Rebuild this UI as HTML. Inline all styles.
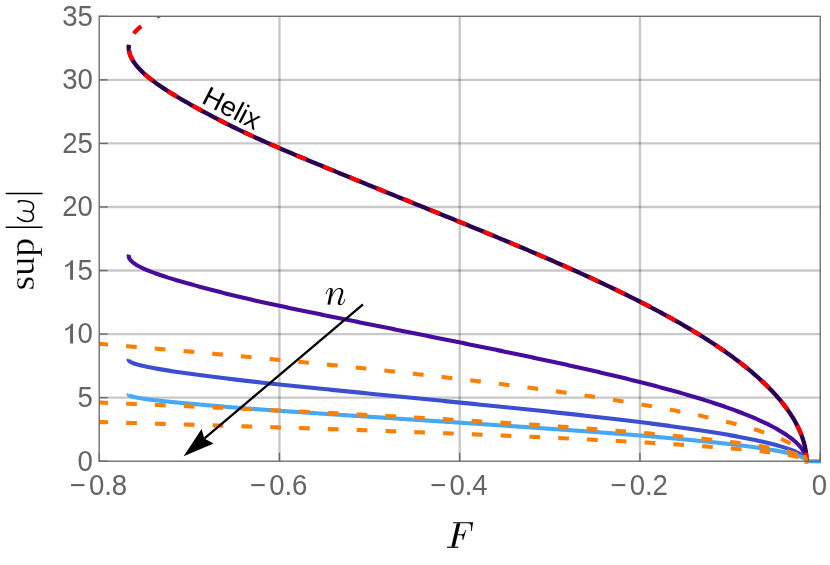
<!DOCTYPE html>
<html><head><meta charset="utf-8"><title>plot</title>
<style>
html,body{margin:0;padding:0;background:#fff;}
body{width:830px;height:565px;overflow:hidden;font-family:"Liberation Sans",sans-serif;}
svg{display:block}
.tk text{font-family:"Liberation Sans",sans-serif;font-size:29.3px;fill:#646464;}
</style></head><body>
<svg width="830" height="565" viewBox="0 0 830 565">
<rect width="830" height="565" fill="#fff"/>
<defs><filter id="gs" x="-20%" y="-20%" width="140%" height="140%" color-interpolation-filters="sRGB"><feColorMatrix type="matrix" values="1 0 0 0 0 0 1 0 0 0 0 0 1 0 0 0 0 0 1 0"/></filter><clipPath id="cp"><rect x="99.2" y="16.3" width="721.8" height="447.4"/></clipPath></defs>
<g stroke="#000" stroke-opacity="0.215" stroke-width="2.4" fill="none"><line x1="279.45" y1="16.30" x2="279.45" y2="461.20"/><line x1="459.70" y1="16.30" x2="459.70" y2="461.20"/><line x1="639.95" y1="16.30" x2="639.95" y2="461.20"/><line x1="99.20" y1="397.64" x2="820.20" y2="397.64"/><line x1="99.20" y1="334.09" x2="820.20" y2="334.09"/><line x1="99.20" y1="270.53" x2="820.20" y2="270.53"/><line x1="99.20" y1="206.97" x2="820.20" y2="206.97"/><line x1="99.20" y1="143.41" x2="820.20" y2="143.41"/><line x1="99.20" y1="79.86" x2="820.20" y2="79.86"/></g>
<g clip-path="url(#cp)" fill="none" stroke-linejoin="round">
<path d="M806.50 461.20 L806.49 460.68 L806.47 460.16 L806.43 459.65 L806.37 459.13 L806.29 458.61 L806.20 458.09 L806.09 457.57 L805.97 457.06 L805.83 456.54 L805.67 456.02 L805.50 455.50 L805.31 454.98 L805.11 454.47 L804.89 453.95 L804.65 453.43 L804.40 452.91 L804.14 452.40 L803.85 451.88 L803.56 451.36 L803.25 450.84 L802.92 450.32 L802.58 449.81 L802.22 449.29 L801.85 448.77 L801.46 448.25 L801.06 447.73 L800.64 447.22 L800.21 446.70 L799.76 446.18 L799.30 445.66 L798.82 445.14 L798.33 444.63 L797.82 444.11 L797.30 443.59 L796.77 443.07 L796.22 442.55 L795.66 442.04 L795.08 441.52 L794.49 441.00 L793.88 440.48 L793.26 439.97 L792.63 439.45 L791.98 438.93 L791.32 438.41 L790.64 437.89 L789.95 437.38 L789.24 436.86 L788.52 436.34 L787.79 435.82 L787.05 435.30 L786.28 434.79 L785.51 434.27 L784.72 433.75 L783.92 433.23 L783.10 432.71 L782.27 432.20 L781.43 431.68 L780.57 431.16 L779.70 430.64 L778.82 430.12 L777.92 429.61 L777.01 429.09 L776.08 428.57 L775.14 428.05 L774.19 427.54 L773.22 427.02 L772.24 426.50 L771.25 425.98 L770.24 425.46 L769.22 424.95 L768.19 424.43 L767.14 423.91 L766.08 423.39 L765.01 422.87 L763.92 422.36 L762.82 421.84 L761.70 421.32 L760.58 420.80 L759.44 420.28 L758.28 419.77 L757.11 419.25 L755.93 418.73 L754.74 418.21 L753.53 417.69 L752.31 417.18 L751.08 416.66 L749.83 416.14 L748.57 415.62 L747.29 415.11 L746.01 414.59 L744.71 414.07 L743.39 413.55 L742.07 413.03 L740.73 412.52 L739.38 412.00 L738.01 411.48 L736.63 410.96 L735.24 410.44 L733.84 409.93 L732.42 409.41 L730.99 408.89 L729.54 408.37 L728.09 407.85 L726.62 407.34 L725.14 406.82 L723.64 406.30 L722.13 405.78 L720.61 405.26 L719.08 404.75 L717.54 404.23 L715.98 403.71 L714.41 403.19 L712.82 402.68 L711.23 402.16 L709.62 401.64 L708.00 401.12 L706.36 400.60 L704.71 400.09 L703.06 399.57 L701.39 399.05 L699.70 398.53 L698.01 398.01 L696.30 397.50 L694.58 396.98 L692.85 396.46 L691.10 395.94 L689.35 395.42 L687.58 394.91 L685.80 394.39 L684.00 393.87 L682.20 393.35 L680.39 392.83 L678.56 392.32 L676.72 391.80 L674.87 391.28 L673.01 390.76 L671.13 390.24 L669.25 389.73 L667.35 389.21 L665.44 388.69 L663.52 388.17 L661.59 387.66 L659.65 387.14 L657.70 386.62 L655.74 386.10 L653.77 385.58 L651.78 385.07 L649.79 384.55 L647.78 384.03 L645.77 383.51 L643.74 382.99 L641.70 382.48 L639.66 381.96 L637.60 381.44 L635.53 380.92 L633.45 380.40 L631.37 379.89 L629.27 379.37 L627.16 378.85 L625.04 378.33 L622.92 377.81 L620.78 377.30 L618.63 376.78 L616.48 376.26 L614.31 375.74 L612.14 375.23 L609.96 374.71 L607.76 374.19 L605.56 373.67 L603.35 373.15 L601.13 372.64 L598.90 372.12 L596.66 371.60 L594.42 371.08 L592.16 370.56 L589.90 370.05 L587.63 369.53 L585.35 369.01 L583.06 368.49 L580.76 367.97 L578.46 367.46 L576.15 366.94 L573.83 366.42 L571.50 365.90 L569.16 365.38 L566.82 364.87 L564.47 364.35 L562.11 363.83 L559.74 363.31 L557.37 362.80 L554.99 362.28 L552.60 361.76 L550.21 361.24 L547.81 360.72 L545.40 360.21 L542.99 359.69 L540.57 359.17 L538.14 358.65 L535.71 358.13 L533.27 357.62 L530.82 357.10 L528.37 356.58 L525.92 356.06 L523.46 355.54 L520.99 355.03 L518.51 354.51 L516.04 353.99 L513.55 353.47 L511.06 352.95 L508.57 352.44 L506.07 351.92 L503.57 351.40 L501.06 350.88 L498.55 350.37 L496.04 349.85 L493.52 349.33 L490.99 348.81 L488.46 348.29 L485.93 347.78 L483.40 347.26 L480.86 346.74 L478.32 346.22 L475.77 345.70 L473.22 345.19 L470.67 344.67 L468.12 344.15 L465.56 343.63 L463.00 343.11 L460.44 342.60 L457.88 342.08 L455.31 341.56 L452.75 341.04 L450.18 340.52 L447.61 340.01 L445.04 339.49 L442.47 338.97 L439.89 338.45 L437.32 337.94 L434.74 337.42 L432.17 336.90 L429.59 336.38 L427.01 335.86 L424.43 335.35 L421.85 334.83 L419.27 334.31 L416.69 333.79 L414.11 333.27 L411.53 332.76 L408.95 332.24 L406.37 331.72 L403.79 331.20 L401.21 330.68 L398.63 330.17 L396.05 329.65 L393.47 329.13 L390.90 328.61 L388.32 328.09 L385.74 327.58 L383.16 327.06 L380.58 326.54 L378.01 326.02 L375.43 325.50 L372.86 324.99 L370.29 324.47 L367.71 323.95 L365.14 323.43 L362.57 322.92 L360.00 322.40 L357.43 321.88 L354.87 321.36 L352.30 320.84 L349.74 320.33 L347.17 319.81 L344.61 319.29 L342.05 318.77 L339.49 318.25 L336.93 317.74 L334.38 317.22 L331.83 316.70 L329.28 316.18 L326.73 315.66 L324.19 315.15 L321.65 314.63 L319.12 314.11 L316.59 313.59 L314.06 313.07 L311.54 312.56 L309.03 312.04 L306.52 311.52 L304.01 311.00 L301.52 310.49 L299.03 309.97 L296.54 309.45 L294.07 308.93 L291.60 308.41 L289.14 307.90 L286.69 307.38 L284.25 306.86 L281.82 306.34 L279.39 305.82 L276.98 305.31 L274.58 304.79 L272.19 304.27 L269.81 303.75 L267.45 303.23 L265.09 302.72 L262.75 302.20 L260.42 301.68 L258.11 301.16 L255.81 300.64 L253.53 300.13 L251.26 299.61 L249.00 299.09 L246.77 298.57 L244.55 298.06 L242.34 297.54 L240.16 297.02 L237.99 296.50 L235.84 295.98 L233.70 295.47 L231.58 294.95 L229.48 294.43 L227.39 293.91 L225.32 293.39 L223.26 292.88 L221.21 292.36 L219.18 291.84 L217.16 291.32 L215.16 290.80 L213.17 290.29 L211.19 289.77 L209.22 289.25 L207.26 288.73 L205.31 288.21 L203.38 287.70 L201.45 287.18 L199.53 286.66 L197.62 286.14 L195.72 285.63 L193.83 285.11 L191.96 284.59 L190.09 284.07 L188.24 283.55 L186.40 283.04 L184.57 282.52 L182.76 282.00 L180.97 281.48 L179.19 280.96 L177.43 280.45 L175.69 279.93 L173.96 279.41 L172.25 278.89 L170.57 278.37 L168.90 277.86 L167.26 277.34 L165.64 276.82 L164.04 276.30 L162.47 275.78 L160.92 275.27 L159.40 274.75 L157.90 274.23 L156.43 273.71 L154.99 273.19 L153.58 272.68 L152.21 272.16 L150.86 271.64 L149.54 271.12 L148.26 270.61 L147.01 270.09 L145.80 269.57 L144.62 269.05 L143.48 268.53 L142.37 268.02 L141.30 267.50 L140.27 266.98 L139.28 266.46 L138.33 265.94 L137.41 265.43 L136.54 264.91 L135.71 264.39 L134.92 263.87 L134.18 263.35 L133.48 262.84 L132.82 262.32 L132.21 261.80 L131.64 261.28 L131.12 260.76 L130.65 260.25 L130.23 259.73 L129.85 259.21 L129.52 258.69 L129.25 258.18 L129.02 257.66 L128.85 257.14 L128.73 256.62 L128.67 256.10 L128.65 255.59 L128.70 255.07 L128.80 254.55" stroke="#470c9c" stroke-width="4.1"/>
<path d="M806.50 461.20 L806.49 460.94 L806.47 460.69 L806.43 460.43 L806.37 460.18 L806.29 459.92 L806.20 459.67 L806.09 459.41 L805.97 459.15 L805.83 458.90 L805.67 458.64 L805.50 458.39 L805.31 458.13 L805.11 457.87 L804.89 457.62 L804.65 457.36 L804.40 457.11 L804.14 456.85 L803.85 456.60 L803.56 456.34 L803.25 456.08 L802.92 455.83 L802.58 455.57 L802.22 455.32 L801.85 455.06 L801.46 454.81 L801.06 454.55 L800.64 454.29 L800.21 454.04 L799.76 453.78 L799.30 453.53 L798.82 453.27 L798.33 453.01 L797.82 452.76 L797.30 452.50 L796.77 452.25 L796.22 451.99 L795.66 451.74 L795.08 451.48 L794.49 451.22 L793.88 450.97 L793.26 450.71 L792.63 450.46 L791.98 450.20 L791.32 449.95 L790.64 449.69 L789.95 449.43 L789.24 449.18 L788.52 448.92 L787.79 448.67 L787.05 448.41 L786.28 448.15 L785.51 447.90 L784.72 447.64 L783.92 447.39 L783.10 447.13 L782.27 446.88 L781.43 446.62 L780.57 446.36 L779.70 446.11 L778.82 445.85 L777.92 445.60 L777.01 445.34 L776.08 445.09 L775.14 444.83 L774.19 444.57 L773.22 444.32 L772.24 444.06 L771.25 443.81 L770.24 443.55 L769.22 443.29 L768.19 443.04 L767.14 442.78 L766.08 442.53 L765.01 442.27 L763.92 442.02 L762.82 441.76 L761.70 441.50 L760.58 441.25 L759.44 440.99 L758.28 440.74 L757.11 440.48 L755.93 440.23 L754.74 439.97 L753.53 439.71 L752.31 439.46 L751.08 439.20 L749.83 438.95 L748.57 438.69 L747.29 438.43 L746.01 438.18 L744.71 437.92 L743.39 437.67 L742.07 437.41 L740.73 437.16 L739.38 436.90 L738.01 436.64 L736.63 436.39 L735.24 436.13 L733.84 435.88 L732.42 435.62 L730.99 435.37 L729.54 435.11 L728.09 434.85 L726.62 434.60 L725.14 434.34 L723.64 434.09 L722.13 433.83 L720.61 433.58 L719.08 433.32 L717.54 433.06 L715.98 432.81 L714.41 432.55 L712.82 432.30 L711.23 432.04 L709.62 431.78 L708.00 431.53 L706.36 431.27 L704.71 431.02 L703.06 430.76 L701.39 430.51 L699.70 430.25 L698.01 429.99 L696.30 429.74 L694.58 429.48 L692.85 429.23 L691.10 428.97 L689.35 428.72 L687.58 428.46 L685.80 428.20 L684.00 427.95 L682.20 427.69 L680.39 427.44 L678.56 427.18 L676.72 426.92 L674.87 426.67 L673.01 426.41 L671.13 426.16 L669.25 425.90 L667.35 425.65 L665.44 425.39 L663.52 425.13 L661.59 424.88 L659.65 424.62 L657.70 424.37 L655.74 424.11 L653.77 423.86 L651.78 423.60 L649.79 423.34 L647.78 423.09 L645.77 422.83 L643.74 422.58 L641.70 422.32 L639.66 422.06 L637.60 421.81 L635.53 421.55 L633.45 421.30 L631.37 421.04 L629.27 420.79 L627.16 420.53 L625.04 420.27 L622.92 420.02 L620.78 419.76 L618.63 419.51 L616.48 419.25 L614.31 419.00 L612.14 418.74 L609.96 418.48 L607.76 418.23 L605.56 417.97 L603.35 417.72 L601.13 417.46 L598.90 417.20 L596.66 416.95 L594.42 416.69 L592.16 416.44 L589.90 416.18 L587.63 415.93 L585.35 415.67 L583.06 415.41 L580.76 415.16 L578.46 414.90 L576.15 414.65 L573.83 414.39 L571.50 414.14 L569.16 413.88 L566.82 413.62 L564.47 413.37 L562.11 413.11 L559.74 412.86 L557.37 412.60 L554.99 412.34 L552.60 412.09 L550.21 411.83 L547.81 411.58 L545.40 411.32 L542.99 411.07 L540.57 410.81 L538.14 410.55 L535.71 410.30 L533.27 410.04 L530.82 409.79 L528.37 409.53 L525.92 409.28 L523.46 409.02 L520.99 408.76 L518.51 408.51 L516.04 408.25 L513.55 408.00 L511.06 407.74 L508.57 407.48 L506.07 407.23 L503.57 406.97 L501.06 406.72 L498.55 406.46 L496.04 406.21 L493.52 405.95 L490.99 405.69 L488.46 405.44 L485.93 405.18 L483.40 404.93 L480.86 404.67 L478.32 404.42 L475.77 404.16 L473.22 403.90 L470.67 403.65 L468.12 403.39 L465.56 403.14 L463.00 402.88 L460.44 402.62 L457.88 402.37 L455.31 402.11 L452.75 401.86 L450.18 401.60 L447.61 401.35 L445.04 401.09 L442.47 400.83 L439.89 400.58 L437.32 400.32 L434.74 400.07 L432.17 399.81 L429.59 399.56 L427.01 399.30 L424.43 399.04 L421.85 398.79 L419.27 398.53 L416.69 398.28 L414.11 398.02 L411.53 397.76 L408.95 397.51 L406.37 397.25 L403.79 397.00 L401.21 396.74 L398.63 396.49 L396.05 396.23 L393.47 395.97 L390.90 395.72 L388.32 395.46 L385.74 395.21 L383.16 394.95 L380.58 394.70 L378.01 394.44 L375.43 394.18 L372.86 393.93 L370.29 393.67 L367.71 393.42 L365.14 393.16 L362.57 392.90 L360.00 392.65 L357.43 392.39 L354.87 392.14 L352.30 391.88 L349.74 391.63 L347.17 391.37 L344.61 391.11 L342.05 390.86 L339.49 390.60 L336.93 390.35 L334.38 390.09 L331.83 389.84 L329.28 389.58 L326.73 389.32 L324.19 389.07 L321.65 388.81 L319.12 388.56 L316.59 388.30 L314.06 388.05 L311.54 387.79 L309.03 387.53 L306.52 387.28 L304.01 387.02 L301.52 386.77 L299.03 386.51 L296.54 386.25 L294.07 386.00 L291.60 385.74 L289.14 385.49 L286.69 385.23 L284.25 384.98 L281.82 384.72 L279.39 384.46 L276.98 384.21 L274.58 383.95 L272.19 383.70 L269.81 383.44 L267.45 383.19 L265.09 382.93 L262.75 382.67 L260.42 382.42 L258.11 382.16 L255.81 381.91 L253.53 381.65 L251.26 381.39 L249.00 381.14 L246.77 380.88 L244.55 380.63 L242.34 380.37 L240.16 380.12 L237.99 379.86 L235.84 379.60 L233.70 379.35 L231.58 379.09 L229.48 378.84 L227.39 378.58 L225.32 378.33 L223.26 378.07 L221.21 377.81 L219.18 377.56 L217.16 377.30 L215.16 377.05 L213.17 376.79 L211.19 376.53 L209.22 376.28 L207.26 376.02 L205.31 375.77 L203.38 375.51 L201.45 375.26 L199.53 375.00 L197.62 374.74 L195.72 374.49 L193.83 374.23 L191.96 373.98 L190.09 373.72 L188.24 373.47 L186.40 373.21 L184.57 372.95 L182.76 372.70 L180.97 372.44 L179.19 372.19 L177.43 371.93 L175.69 371.67 L173.96 371.42 L172.25 371.16 L170.57 370.91 L168.90 370.65 L167.26 370.40 L165.64 370.14 L164.04 369.88 L162.47 369.63 L160.92 369.37 L159.40 369.12 L157.90 368.86 L156.43 368.61 L154.99 368.35 L153.58 368.09 L152.21 367.84 L150.86 367.58 L149.54 367.33 L148.26 367.07 L147.01 366.81 L145.80 366.56 L144.62 366.30 L143.48 366.05 L142.37 365.79 L141.30 365.54 L140.27 365.28 L139.28 365.02 L138.33 364.77 L137.41 364.51 L136.54 364.26 L135.71 364.00 L134.92 363.75 L134.18 363.49 L133.48 363.23 L132.82 362.98 L132.21 362.72 L131.64 362.47 L131.12 362.21 L130.65 361.95 L130.23 361.70 L129.85 361.44 L129.52 361.19 L129.25 360.93 L129.02 360.68 L128.85 360.42 L128.73 360.16 L128.67 359.91 L128.65 359.65 L128.70 359.40 L128.80 359.14" stroke="#3c4fd0" stroke-width="4.1"/>
<path d="M822.20 461.40 L806.50 461.20 L806.49 461.03 L806.47 460.86 L806.43 460.70 L806.37 460.53 L806.29 460.36 L806.20 460.19 L806.09 460.02 L805.97 459.86 L805.83 459.69 L805.67 459.52 L805.50 459.35 L805.31 459.18 L805.11 459.02 L804.89 458.85 L804.65 458.68 L804.40 458.51 L804.14 458.34 L803.85 458.18 L803.56 458.01 L803.25 457.84 L802.92 457.67 L802.58 457.50 L802.22 457.33 L801.85 457.17 L801.46 457.00 L801.06 456.83 L800.64 456.66 L800.21 456.49 L799.76 456.33 L799.30 456.16 L798.82 455.99 L798.33 455.82 L797.82 455.65 L797.30 455.49 L796.77 455.32 L796.22 455.15 L795.66 454.98 L795.08 454.81 L794.49 454.65 L793.88 454.48 L793.26 454.31 L792.63 454.14 L791.98 453.97 L791.32 453.81 L790.64 453.64 L789.95 453.47 L789.24 453.30 L788.52 453.13 L787.79 452.97 L787.05 452.80 L786.28 452.63 L785.51 452.46 L784.72 452.29 L783.92 452.13 L783.10 451.96 L782.27 451.79 L781.43 451.62 L780.57 451.45 L779.70 451.28 L778.82 451.12 L777.92 450.95 L777.01 450.78 L776.08 450.61 L775.14 450.44 L774.19 450.28 L773.22 450.11 L772.24 449.94 L771.25 449.77 L770.24 449.60 L769.22 449.44 L768.19 449.27 L767.14 449.10 L766.08 448.93 L765.01 448.76 L763.92 448.60 L762.82 448.43 L761.70 448.26 L760.58 448.09 L759.44 447.92 L758.28 447.76 L757.11 447.59 L755.93 447.42 L754.74 447.25 L753.53 447.08 L752.31 446.92 L751.08 446.75 L749.83 446.58 L748.57 446.41 L747.29 446.24 L746.01 446.08 L744.71 445.91 L743.39 445.74 L742.07 445.57 L740.73 445.40 L739.38 445.23 L738.01 445.07 L736.63 444.90 L735.24 444.73 L733.84 444.56 L732.42 444.39 L730.99 444.23 L729.54 444.06 L728.09 443.89 L726.62 443.72 L725.14 443.55 L723.64 443.39 L722.13 443.22 L720.61 443.05 L719.08 442.88 L717.54 442.71 L715.98 442.55 L714.41 442.38 L712.82 442.21 L711.23 442.04 L709.62 441.87 L708.00 441.71 L706.36 441.54 L704.71 441.37 L703.06 441.20 L701.39 441.03 L699.70 440.87 L698.01 440.70 L696.30 440.53 L694.58 440.36 L692.85 440.19 L691.10 440.03 L689.35 439.86 L687.58 439.69 L685.80 439.52 L684.00 439.35 L682.20 439.19 L680.39 439.02 L678.56 438.85 L676.72 438.68 L674.87 438.51 L673.01 438.34 L671.13 438.18 L669.25 438.01 L667.35 437.84 L665.44 437.67 L663.52 437.50 L661.59 437.34 L659.65 437.17 L657.70 437.00 L655.74 436.83 L653.77 436.66 L651.78 436.50 L649.79 436.33 L647.78 436.16 L645.77 435.99 L643.74 435.82 L641.70 435.66 L639.66 435.49 L637.60 435.32 L635.53 435.15 L633.45 434.98 L631.37 434.82 L629.27 434.65 L627.16 434.48 L625.04 434.31 L622.92 434.14 L620.78 433.98 L618.63 433.81 L616.48 433.64 L614.31 433.47 L612.14 433.30 L609.96 433.14 L607.76 432.97 L605.56 432.80 L603.35 432.63 L601.13 432.46 L598.90 432.29 L596.66 432.13 L594.42 431.96 L592.16 431.79 L589.90 431.62 L587.63 431.45 L585.35 431.29 L583.06 431.12 L580.76 430.95 L578.46 430.78 L576.15 430.61 L573.83 430.45 L571.50 430.28 L569.16 430.11 L566.82 429.94 L564.47 429.77 L562.11 429.61 L559.74 429.44 L557.37 429.27 L554.99 429.10 L552.60 428.93 L550.21 428.77 L547.81 428.60 L545.40 428.43 L542.99 428.26 L540.57 428.09 L538.14 427.93 L535.71 427.76 L533.27 427.59 L530.82 427.42 L528.37 427.25 L525.92 427.09 L523.46 426.92 L520.99 426.75 L518.51 426.58 L516.04 426.41 L513.55 426.24 L511.06 426.08 L508.57 425.91 L506.07 425.74 L503.57 425.57 L501.06 425.40 L498.55 425.24 L496.04 425.07 L493.52 424.90 L490.99 424.73 L488.46 424.56 L485.93 424.40 L483.40 424.23 L480.86 424.06 L478.32 423.89 L475.77 423.72 L473.22 423.56 L470.67 423.39 L468.12 423.22 L465.56 423.05 L463.00 422.88 L460.44 422.72 L457.88 422.55 L455.31 422.38 L452.75 422.21 L450.18 422.04 L447.61 421.88 L445.04 421.71 L442.47 421.54 L439.89 421.37 L437.32 421.20 L434.74 421.04 L432.17 420.87 L429.59 420.70 L427.01 420.53 L424.43 420.36 L421.85 420.20 L419.27 420.03 L416.69 419.86 L414.11 419.69 L411.53 419.52 L408.95 419.35 L406.37 419.19 L403.79 419.02 L401.21 418.85 L398.63 418.68 L396.05 418.51 L393.47 418.35 L390.90 418.18 L388.32 418.01 L385.74 417.84 L383.16 417.67 L380.58 417.51 L378.01 417.34 L375.43 417.17 L372.86 417.00 L370.29 416.83 L367.71 416.67 L365.14 416.50 L362.57 416.33 L360.00 416.16 L357.43 415.99 L354.87 415.83 L352.30 415.66 L349.74 415.49 L347.17 415.32 L344.61 415.15 L342.05 414.99 L339.49 414.82 L336.93 414.65 L334.38 414.48 L331.83 414.31 L329.28 414.15 L326.73 413.98 L324.19 413.81 L321.65 413.64 L319.12 413.47 L316.59 413.30 L314.06 413.14 L311.54 412.97 L309.03 412.80 L306.52 412.63 L304.01 412.46 L301.52 412.30 L299.03 412.13 L296.54 411.96 L294.07 411.79 L291.60 411.62 L289.14 411.46 L286.69 411.29 L284.25 411.12 L281.82 410.95 L279.39 410.78 L276.98 410.62 L274.58 410.45 L272.19 410.28 L269.81 410.11 L267.45 409.94 L265.09 409.78 L262.75 409.61 L260.42 409.44 L258.11 409.27 L255.81 409.10 L253.53 408.94 L251.26 408.77 L249.00 408.60 L246.77 408.43 L244.55 408.26 L242.34 408.10 L240.16 407.93 L237.99 407.76 L235.84 407.59 L233.70 407.42 L231.58 407.25 L229.48 407.09 L227.39 406.92 L225.32 406.75 L223.26 406.58 L221.21 406.41 L219.18 406.25 L217.16 406.08 L215.16 405.91 L213.17 405.74 L211.19 405.57 L209.22 405.41 L207.26 405.24 L205.31 405.07 L203.38 404.90 L201.45 404.73 L199.53 404.57 L197.62 404.40 L195.72 404.23 L193.83 404.06 L191.96 403.89 L190.09 403.73 L188.24 403.56 L186.40 403.39 L184.57 403.22 L182.76 403.05 L180.97 402.89 L179.19 402.72 L177.43 402.55 L175.69 402.38 L173.96 402.21 L172.25 402.05 L170.57 401.88 L168.90 401.71 L167.26 401.54 L165.64 401.37 L164.04 401.21 L162.47 401.04 L160.92 400.87 L159.40 400.70 L157.90 400.53 L156.43 400.36 L154.99 400.20 L153.58 400.03 L152.21 399.86 L150.86 399.69 L149.54 399.52 L148.26 399.36 L147.01 399.19 L145.80 399.02 L144.62 398.85 L143.48 398.68 L142.37 398.52 L141.30 398.35 L140.27 398.18 L139.28 398.01 L138.33 397.84 L137.41 397.68 L136.54 397.51 L135.71 397.34 L134.92 397.17 L134.18 397.00 L133.48 396.84 L132.82 396.67 L132.21 396.50 L131.64 396.33 L131.12 396.16 L130.65 396.00 L130.23 395.83 L129.85 395.66 L129.52 395.49 L129.25 395.32 L129.02 395.16 L128.85 394.99 L128.73 394.82 L128.67 394.65 L128.65 394.48 L128.70 394.31 L128.80 394.15" stroke="#45a9f8" stroke-width="4.1"/>
<path d="M806.50 461.20 L806.49 460.16 L806.47 459.11 L806.43 458.07 L806.37 457.03 L806.29 455.98 L806.20 454.94 L806.09 453.89 L805.97 452.85 L805.83 451.81 L805.67 450.76 L805.50 449.72 L805.31 448.68 L805.11 447.63 L804.89 446.59 L804.65 445.55 L804.40 444.50 L804.14 443.46 L803.85 442.42 L803.56 441.37 L803.25 440.33 L802.92 439.28 L802.58 438.24 L802.22 437.20 L801.85 436.15 L801.46 435.11 L801.06 434.07 L800.64 433.02 L800.21 431.98 L799.76 430.94 L799.30 429.89 L798.82 428.85 L798.33 427.80 L797.82 426.76 L797.30 425.72 L796.77 424.67 L796.22 423.63 L795.66 422.59 L795.08 421.54 L794.49 420.50 L793.88 419.46 L793.26 418.41 L792.63 417.37 L791.98 416.32 L791.32 415.28 L790.64 414.24 L789.95 413.19 L789.24 412.15 L788.52 411.11 L787.79 410.06 L787.05 409.02 L786.28 407.98 L785.51 406.93 L784.72 405.89 L783.92 404.85 L783.10 403.80 L782.27 402.76 L781.43 401.71 L780.57 400.67 L779.70 399.63 L778.82 398.58 L777.92 397.54 L777.01 396.50 L776.08 395.45 L775.14 394.41 L774.19 393.37 L773.22 392.32 L772.24 391.28 L771.25 390.23 L770.24 389.19 L769.22 388.15 L768.19 387.10 L767.14 386.06 L766.08 385.02 L765.01 383.97 L763.92 382.93 L762.82 381.89 L761.70 380.84 L760.58 379.80 L759.44 378.75 L758.28 377.71 L757.11 376.67 L755.93 375.62 L754.74 374.58 L753.53 373.54 L752.31 372.49 L751.08 371.45 L749.83 370.41 L748.57 369.36 L747.29 368.32 L746.01 367.28 L744.71 366.23 L743.39 365.19 L742.07 364.14 L740.73 363.10 L739.38 362.06 L738.01 361.01 L736.63 359.97 L735.24 358.93 L733.84 357.88 L732.42 356.84 L730.99 355.80 L729.54 354.75 L728.09 353.71 L726.62 352.66 L725.14 351.62 L723.64 350.58 L722.13 349.53 L720.61 348.49 L719.08 347.45 L717.54 346.40 L715.98 345.36 L714.41 344.32 L712.82 343.27 L711.23 342.23 L709.62 341.18 L708.00 340.14 L706.36 339.10 L704.71 338.05 L703.06 337.01 L701.39 335.97 L699.70 334.92 L698.01 333.88 L696.30 332.84 L694.58 331.79 L692.85 330.75 L691.10 329.71 L689.35 328.66 L687.58 327.62 L685.80 326.57 L684.00 325.53 L682.20 324.49 L680.39 323.44 L678.56 322.40 L676.72 321.36 L674.87 320.31 L673.01 319.27 L671.13 318.23 L669.25 317.18 L667.35 316.14 L665.44 315.09 L663.52 314.05 L661.59 313.01 L659.65 311.96 L657.70 310.92 L655.74 309.88 L653.77 308.83 L651.78 307.79 L649.79 306.75 L647.78 305.70 L645.77 304.66 L643.74 303.62 L641.70 302.57 L639.66 301.53 L637.60 300.48 L635.53 299.44 L633.45 298.40 L631.37 297.35 L629.27 296.31 L627.16 295.27 L625.04 294.22 L622.92 293.18 L620.78 292.14 L618.63 291.09 L616.48 290.05 L614.31 289.00 L612.14 287.96 L609.96 286.92 L607.76 285.87 L605.56 284.83 L603.35 283.79 L601.13 282.74 L598.90 281.70 L596.66 280.66 L594.42 279.61 L592.16 278.57 L589.90 277.52 L587.63 276.48 L585.35 275.44 L583.06 274.39 L580.76 273.35 L578.46 272.31 L576.15 271.26 L573.83 270.22 L571.50 269.18 L569.16 268.13 L566.82 267.09 L564.47 266.05 L562.11 265.00 L559.74 263.96 L557.37 262.91 L554.99 261.87 L552.60 260.83 L550.21 259.78 L547.81 258.74 L545.40 257.70 L542.99 256.65 L540.57 255.61 L538.14 254.57 L535.71 253.52 L533.27 252.48 L530.82 251.43 L528.37 250.39 L525.92 249.35 L523.46 248.30 L520.99 247.26 L518.51 246.22 L516.04 245.17 L513.55 244.13 L511.06 243.09 L508.57 242.04 L506.07 241.00 L503.57 239.95 L501.06 238.91 L498.55 237.87 L496.04 236.82 L493.52 235.78 L490.99 234.74 L488.46 233.69 L485.93 232.65 L483.40 231.61 L480.86 230.56 L478.32 229.52 L475.77 228.48 L473.22 227.43 L470.67 226.39 L468.12 225.34 L465.56 224.30 L463.00 223.26 L460.44 222.21 L457.88 221.17 L455.31 220.13 L452.75 219.08 L450.18 218.04 L447.61 217.00 L445.04 215.95 L442.47 214.91 L439.89 213.86 L437.32 212.82 L434.74 211.78 L432.17 210.73 L429.59 209.69 L427.01 208.65 L424.43 207.60 L421.85 206.56 L419.27 205.52 L416.69 204.47 L414.11 203.43 L411.53 202.38 L408.95 201.34 L406.37 200.30 L403.79 199.25 L401.21 198.21 L398.63 197.17 L396.05 196.12 L393.47 195.08 L390.90 194.04 L388.32 192.99 L385.74 191.95 L383.16 190.91 L380.58 189.86 L378.01 188.82 L375.43 187.77 L372.86 186.73 L370.29 185.69 L367.71 184.64 L365.14 183.60 L362.57 182.56 L360.00 181.51 L357.43 180.47 L354.87 179.43 L352.30 178.38 L349.74 177.34 L347.17 176.29 L344.61 175.25 L342.05 174.21 L339.49 173.16 L336.93 172.12 L334.38 171.08 L331.83 170.03 L329.28 168.99 L326.73 167.95 L324.19 166.90 L321.65 165.86 L319.12 164.82 L316.59 163.77 L314.06 162.73 L311.54 161.68 L309.03 160.64 L306.52 159.60 L304.01 158.55 L301.52 157.51 L299.03 156.47 L296.54 155.42 L294.07 154.38 L291.60 153.34 L289.14 152.29 L286.69 151.25 L284.25 150.20 L281.82 149.16 L279.39 148.12 L276.98 147.07 L274.58 146.03 L272.19 144.99 L269.81 143.94 L267.45 142.90 L265.09 141.86 L262.75 140.81 L260.42 139.77 L258.11 138.72 L255.81 137.68 L253.53 136.64 L251.26 135.59 L249.00 134.55 L246.77 133.51 L244.55 132.46 L242.34 131.42 L240.16 130.38 L237.99 129.33 L235.84 128.29 L233.70 127.25 L231.58 126.20 L229.48 125.16 L227.39 124.11 L225.32 123.07 L223.26 122.03 L221.21 120.98 L219.18 119.94 L217.16 118.90 L215.16 117.85 L213.17 116.81 L211.19 115.77 L209.22 114.72 L207.26 113.68 L205.31 112.63 L203.38 111.59 L201.45 110.55 L199.53 109.50 L197.62 108.46 L195.72 107.42 L193.83 106.37 L191.96 105.33 L190.09 104.29 L188.24 103.24 L186.40 102.20 L184.57 101.15 L182.76 100.11 L180.97 99.07 L179.19 98.02 L177.43 96.98 L175.69 95.94 L173.96 94.89 L172.25 93.85 L170.57 92.81 L168.90 91.76 L167.26 90.72 L165.64 89.68 L164.04 88.63 L162.47 87.59 L160.92 86.54 L159.40 85.50 L157.90 84.46 L156.43 83.41 L154.99 82.37 L153.58 81.33 L152.21 80.28 L150.86 79.24 L149.54 78.20 L148.26 77.15 L147.01 76.11 L145.80 75.06 L144.62 74.02 L143.48 72.98 L142.37 71.93 L141.30 70.89 L140.27 69.85 L139.28 68.80 L138.33 67.76 L137.41 66.72 L136.54 65.67 L135.71 64.63 L134.92 63.58 L134.18 62.54 L133.48 61.50 L132.82 60.45 L132.21 59.41 L131.64 58.37 L131.12 57.32 L130.65 56.28 L130.23 55.24 L129.85 54.19 L129.52 53.15 L129.25 52.11 L129.02 51.06 L128.85 50.02 L128.73 48.97 L128.67 47.93 L128.65 46.89 L128.70 45.84 L128.80 44.80" stroke="#2b0052" stroke-width="4.3"/>
<path d="M806.50 461.20 L806.49 460.08 L806.46 458.96 L806.41 457.84 L806.35 456.72 L806.26 455.60 L806.15 454.48 L806.03 453.36 L805.89 452.24 L805.73 451.12 L805.55 450.00 L805.35 448.88 L805.13 447.76 L804.90 446.64 L804.65 445.52 L804.38 444.40 L804.09 443.28 L803.78 442.16 L803.46 441.04 L803.12 439.92 L802.76 438.80 L802.39 437.68 L801.99 436.56 L801.58 435.44 L801.15 434.32 L800.71 433.20 L800.25 432.08 L799.77 430.96 L799.27 429.84 L798.76 428.72 L798.23 427.60 L797.68 426.48 L797.12 425.36 L796.54 424.24 L795.95 423.12 L795.33 422.00 L794.70 420.88 L794.06 419.76 L793.40 418.64 L792.72 417.52 L792.02 416.40 L791.31 415.28 L790.59 414.16 L789.84 413.04 L789.08 411.92 L788.31 410.80 L787.52 409.68 L786.71 408.56 L785.89 407.44 L785.05 406.32 L784.19 405.20 L783.32 404.08 L782.43 402.96 L781.53 401.84 L780.61 400.72 L779.68 399.60 L778.73 398.48 L777.76 397.36 L776.78 396.24 L775.78 395.12 L774.77 394.00 L773.74 392.88 L772.69 391.76 L771.63 390.64 L770.56 389.52 L769.47 388.40 L768.36 387.28 L767.24 386.16 L766.10 385.04 L764.95 383.92 L763.78 382.80 L762.60 381.68 L761.40 380.56 L760.18 379.44 L758.95 378.32 L757.71 377.20 L756.45 376.08 L755.17 374.96 L753.88 373.84 L752.57 372.72 L751.25 371.60 L749.91 370.48 L748.56 369.36 L747.19 368.24 L745.81 367.12 L744.41 366.00 L743.00 364.88 L741.57 363.76 L740.13 362.64 L738.67 361.52 L737.20 360.40 L735.71 359.28 L734.20 358.16 L732.69 357.04 L731.15 355.92 L729.60 354.80 L728.04 353.68 L726.46 352.56 L724.87 351.44 L723.26 350.32 L721.64 349.19 L720.01 348.07 L718.35 346.95 L716.69 345.83 L715.01 344.71 L713.31 343.59 L711.60 342.47 L709.88 341.35 L708.14 340.23 L706.39 339.11 L704.62 337.99 L702.84 336.87 L701.04 335.75 L699.23 334.63 L697.41 333.51 L695.57 332.39 L693.72 331.27 L691.85 330.15 L689.97 329.03 L688.08 327.91 L686.17 326.79 L684.25 325.67 L682.32 324.55 L680.37 323.43 L678.41 322.31 L676.43 321.19 L674.44 320.07 L672.44 318.95 L670.43 317.83 L668.40 316.71 L666.36 315.59 L664.30 314.47 L662.24 313.35 L660.16 312.23 L658.06 311.11 L655.96 309.99 L653.84 308.87 L651.71 307.75 L649.57 306.63 L647.42 305.51 L645.25 304.39 L643.07 303.27 L640.88 302.15 L638.68 301.03 L636.47 299.91 L634.24 298.79 L632.01 297.67 L629.76 296.55 L627.50 295.43 L625.23 294.31 L622.94 293.19 L620.65 292.07 L618.35 290.95 L616.03 289.83 L613.71 288.71 L611.37 287.59 L609.02 286.47 L606.66 285.35 L604.30 284.23 L601.92 283.11 L599.53 281.99 L597.13 280.87 L594.72 279.75 L592.30 278.63 L589.87 277.51 L587.43 276.39 L584.98 275.27 L582.53 274.15 L580.06 273.03 L577.58 271.91 L575.10 270.79 L572.60 269.67 L570.10 268.55 L567.59 267.43 L565.07 266.31 L562.54 265.19 L560.00 264.07 L557.45 262.95 L554.90 261.83 L552.34 260.71 L549.77 259.59 L547.19 258.47 L544.60 257.35 L542.01 256.23 L539.41 255.11 L536.80 253.99 L534.19 252.87 L531.57 251.75 L528.94 250.63 L526.30 249.51 L523.66 248.39 L521.01 247.27 L518.36 246.15 L515.70 245.03 L513.03 243.91 L510.36 242.79 L507.68 241.67 L505.00 240.55 L502.31 239.43 L499.62 238.31 L496.92 237.19 L494.21 236.07 L491.51 234.95 L488.79 233.83 L486.08 232.71 L483.36 231.59 L480.63 230.47 L477.90 229.35 L475.17 228.23 L472.44 227.11 L469.70 225.99 L466.96 224.87 L464.21 223.75 L461.46 222.63 L458.71 221.51 L455.96 220.39 L453.21 219.27 L450.45 218.15 L447.69 217.03 L444.93 215.91 L442.17 214.79 L439.41 213.67 L436.65 212.55 L433.88 211.43 L431.12 210.31 L428.35 209.19 L425.58 208.07 L422.82 206.95 L420.05 205.83 L417.28 204.71 L414.51 203.59 L411.74 202.47 L408.97 201.35 L406.20 200.23 L403.43 199.11 L400.66 197.99 L397.90 196.87 L395.13 195.75 L392.36 194.63 L389.59 193.51 L386.82 192.39 L384.06 191.27 L381.29 190.15 L378.53 189.03 L375.76 187.91 L373.00 186.79 L370.24 185.67 L367.48 184.55 L364.72 183.43 L361.96 182.31 L359.20 181.19 L356.44 180.07 L353.69 178.95 L350.94 177.83 L348.19 176.71 L345.44 175.59 L342.69 174.47 L339.94 173.35 L337.20 172.23 L334.45 171.11 L331.72 169.99 L328.98 168.87 L326.25 167.75 L323.52 166.63 L320.80 165.51 L318.08 164.39 L315.36 163.27 L312.66 162.15 L309.95 161.03 L307.26 159.91 L304.57 158.79 L301.89 157.67 L299.22 156.55 L296.55 155.43 L293.89 154.31 L291.25 153.19 L288.61 152.07 L285.98 150.95 L283.36 149.83 L280.76 148.71 L278.16 147.59 L275.58 146.47 L273.01 145.35 L270.46 144.23 L267.91 143.11 L265.38 141.99 L262.87 140.87 L260.37 139.75 L257.89 138.63 L255.43 137.51 L252.98 136.39 L250.55 135.27 L248.13 134.15 L245.74 133.03 L243.37 131.91 L241.01 130.79 L238.68 129.67 L236.36 128.55 L234.07 127.43 L231.79 126.31 L229.53 125.18 L227.29 124.06 L225.07 122.94 L222.86 121.82 L220.67 120.70 L218.49 119.58 L216.33 118.46 L214.19 117.34 L212.06 116.22 L209.94 115.10 L207.83 113.98 L205.74 112.86 L203.66 111.74 L201.59 110.62 L199.53 109.50 L197.48 108.38 L195.44 107.26 L193.42 106.14 L191.41 105.02 L189.41 103.90 L187.43 102.78 L185.46 101.66 L183.51 100.54 L181.58 99.42 L179.67 98.30 L177.77 97.18 L175.90 96.06 L174.04 94.94 L172.21 93.82 L170.40 92.70 L168.62 91.58 L166.86 90.46 L165.13 89.34 L163.42 88.22 L161.75 87.10 L160.10 85.98 L158.48 84.86 L156.89 83.74 L155.34 82.62 L153.82 81.50 L152.34 80.38 L150.89 79.26 L149.48 78.14 L148.10 77.02 L146.77 75.90 L145.47 74.78 L144.22 73.66 L143.01 72.54 L141.84 71.42 L140.72 70.30 L139.64 69.18 L138.60 68.06 L137.61 66.94 L136.67 65.82 L135.77 64.70 L134.92 63.58 L134.13 62.46 L133.38 61.34 L132.68 60.22 L132.04 59.10 L131.45 57.98 L130.91 56.86 L130.43 55.74 L130.00 54.62 L129.63 53.50 L129.32 52.38 L129.06 51.26 L128.87 50.14 L128.74 49.02 L128.66 47.90 L128.66 46.78 L128.71 45.66 L128.83 44.54 L129.02 43.42 L129.28 42.30 L129.60 41.18 L129.99 40.06 L130.46 38.94 L131.00 37.82 L131.61 36.70 L132.30 35.58 L133.07 34.46 L133.91 33.34 L134.84 32.22 L135.84 31.10 L136.93 29.98 L138.11 28.86 L139.37 27.74 L140.71 26.62 L142.15 25.50 L143.68 24.38 L145.30 23.26 L147.01 22.14 L148.82 21.02 L150.73 19.90 L152.73 18.78 L154.84 17.66 L157.05 16.54 L159.36 15.42 L161.78 14.30" stroke="#fe0000" stroke-width="4.3" stroke-dasharray="10.5 18.3" stroke-dashoffset="1.7"/>
<path d="M97.40 343.69 L99.77 343.89 L102.14 344.08 L104.51 344.28 L106.89 344.48 L109.26 344.68 L111.63 344.87 L114.00 345.07 L116.37 345.27 L118.74 345.47 L121.12 345.67 L123.49 345.87 L125.86 346.07 L128.23 346.27 L130.60 346.47 L132.97 346.68 L135.35 346.88 L137.72 347.08 L140.09 347.28 L142.46 347.48 L144.83 347.69 L147.20 347.89 L149.57 348.10 L151.95 348.30 L154.32 348.50 L156.69 348.71 L159.06 348.91 L161.43 349.12 L163.80 349.33 L166.18 349.53 L168.55 349.74 L170.92 349.95 L173.29 350.16 L175.66 350.36 L178.03 350.57 L180.41 350.78 L182.78 350.99 L185.15 351.20 L187.52 351.41 L189.89 351.62 L192.26 351.83 L194.63 352.04 L197.01 352.26 L199.38 352.47 L201.75 352.68 L204.12 352.89 L206.49 353.11 L208.86 353.32 L211.24 353.53 L213.61 353.75 L215.98 353.96 L218.35 354.18 L220.72 354.40 L223.09 354.61 L225.46 354.83 L227.84 355.05 L230.21 355.26 L232.58 355.48 L234.95 355.70 L237.32 355.92 L239.69 356.14 L242.07 356.36 L244.44 356.58 L246.81 356.80 L249.18 357.02 L251.55 357.24 L253.92 357.47 L256.30 357.69 L258.67 357.91 L261.04 358.14 L263.41 358.36 L265.78 358.59 L268.15 358.81 L270.52 359.04 L272.90 359.26 L275.27 359.49 L277.64 359.72 L280.01 359.94 L282.38 360.17 L284.75 360.40 L287.13 360.63 L289.50 360.86 L291.87 361.09 L294.24 361.32 L296.61 361.55 L298.98 361.79 L301.36 362.02 L303.73 362.25 L306.10 362.49 L308.47 362.72 L310.84 362.95 L313.21 363.19 L315.58 363.43 L317.96 363.66 L320.33 363.90 L322.70 364.14 L325.07 364.37 L327.44 364.61 L329.81 364.85 L332.19 365.09 L334.56 365.33 L336.93 365.57 L339.30 365.82 L341.67 366.06 L344.04 366.30 L346.42 366.55 L348.79 366.79 L351.16 367.03 L353.53 367.28 L355.90 367.53 L358.27 367.77 L360.64 368.02 L363.02 368.27 L365.39 368.52 L367.76 368.77 L370.13 369.02 L372.50 369.27 L374.87 369.52 L377.25 369.77 L379.62 370.02 L381.99 370.28 L384.36 370.53 L386.73 370.79 L389.10 371.04 L391.47 371.30 L393.85 371.56 L396.22 371.82 L398.59 372.07 L400.96 372.33 L403.33 372.59 L405.70 372.85 L408.08 373.12 L410.45 373.38 L412.82 373.64 L415.19 373.91 L417.56 374.17 L419.93 374.44 L422.31 374.70 L424.68 374.97 L427.05 375.24 L429.42 375.51 L431.79 375.78 L434.16 376.05 L436.53 376.32 L438.91 376.59 L441.28 376.87 L443.65 377.14 L446.02 377.42 L448.39 377.69 L450.76 377.97 L453.14 378.25 L455.51 378.53 L457.88 378.81 L460.25 379.09 L462.62 379.37 L464.99 379.65 L467.37 379.93 L469.74 380.22 L472.11 380.50 L474.48 380.79 L476.85 381.08 L479.22 381.37 L481.59 381.66 L483.97 381.95 L486.34 382.24 L488.71 382.53 L491.08 382.83 L493.45 383.12 L495.82 383.42 L498.20 383.72 L500.57 384.01 L502.94 384.31 L505.31 384.62 L507.68 384.92 L510.05 385.22 L512.43 385.53 L514.80 385.83 L517.17 386.14 L519.54 386.45 L521.91 386.76 L524.28 387.07 L526.65 387.38 L529.03 387.69 L531.40 388.01 L533.77 388.32 L536.14 388.64 L538.51 388.96 L540.88 389.28 L543.26 389.60 L545.63 389.93 L548.00 390.25 L550.37 390.58 L552.74 390.90 L555.11 391.23 L557.48 391.56 L559.86 391.90 L562.23 392.23 L564.60 392.57 L566.97 392.90 L569.34 393.24 L571.71 393.58 L574.09 393.93 L576.46 394.27 L578.83 394.62 L581.20 394.96 L583.57 395.31 L585.94 395.66 L588.32 396.02 L590.69 396.37 L593.06 396.73 L595.43 397.09 L597.80 397.45 L600.17 397.81 L602.54 398.18 L604.92 398.55 L607.29 398.92 L609.66 399.29 L612.03 399.66 L614.40 400.04 L616.77 400.42 L619.15 400.80 L621.52 401.18 L623.89 401.57 L626.26 401.96 L628.63 402.35 L631.00 402.74 L633.38 403.14 L635.75 403.54 L638.12 403.94 L640.49 404.34 L642.86 404.75 L645.23 405.16 L647.60 405.57 L649.98 405.99 L652.35 406.41 L654.72 406.83 L657.09 407.26 L659.46 407.69 L661.83 408.12 L664.21 408.56 L666.58 409.00 L668.95 409.44 L671.32 409.89 L673.69 410.34 L676.06 410.80 L678.44 411.26 L680.81 411.73 L683.18 412.19 L685.55 412.67 L687.92 413.15 L690.29 413.63 L692.66 414.12 L695.04 414.61 L697.41 415.11 L699.78 415.61 L702.15 416.12 L704.52 416.64 L706.89 417.16 L709.27 417.69 L711.64 418.22 L714.01 418.76 L716.38 419.31 L718.75 419.86 L721.12 420.43 L723.49 421.00 L725.87 421.57 L728.24 422.16 L730.61 422.76 L732.98 423.36 L735.35 423.98 L737.72 424.60 L740.10 425.24 L742.47 425.89 L744.84 426.55 L747.21 427.22 L749.58 427.91 L751.95 428.61 L754.33 429.32 L756.70 430.06 L759.07 430.81 L761.44 431.58 L763.81 432.37 L766.18 433.18 L768.55 434.02 L770.93 434.88 L773.30 435.77 L775.67 436.70 L778.04 437.66 L780.41 438.66 L782.78 439.71 L785.16 440.81 L787.53 441.98 L789.90 443.22 L792.27 444.55 L794.64 446.00 L797.01 447.61 L799.39 449.43 L801.76 451.59 L804.13 454.40 L806.50 461.20 L806.49 461.70 L806.46 462.13 L806.41 462.56 L806.34 462.99 L806.25 463.41 L806.14 463.84 L806.02 464.27 L805.87 464.70" stroke="#ff7f00" stroke-width="4.1" stroke-dasharray="10.7 18.12" stroke-dashoffset="0"/>
<path d="M97.40 402.44 L99.77 402.54 L102.14 402.64 L104.51 402.74 L106.89 402.84 L109.26 402.94 L111.63 403.04 L114.00 403.14 L116.37 403.24 L118.74 403.34 L121.12 403.44 L123.49 403.54 L125.86 403.64 L128.23 403.74 L130.60 403.84 L132.97 403.94 L135.35 404.04 L137.72 404.14 L140.09 404.24 L142.46 404.34 L144.83 404.44 L147.20 404.55 L149.57 404.65 L151.95 404.75 L154.32 404.85 L156.69 404.95 L159.06 405.06 L161.43 405.16 L163.80 405.26 L166.18 405.37 L168.55 405.47 L170.92 405.57 L173.29 405.68 L175.66 405.78 L178.03 405.89 L180.41 405.99 L182.78 406.10 L185.15 406.20 L187.52 406.31 L189.89 406.41 L192.26 406.52 L194.63 406.62 L197.01 406.73 L199.38 406.83 L201.75 406.94 L204.12 407.05 L206.49 407.15 L208.86 407.26 L211.24 407.37 L213.61 407.47 L215.98 407.58 L218.35 407.69 L220.72 407.80 L223.09 407.91 L225.46 408.01 L227.84 408.12 L230.21 408.23 L232.58 408.34 L234.95 408.45 L237.32 408.56 L239.69 408.67 L242.07 408.78 L244.44 408.89 L246.81 409.00 L249.18 409.11 L251.55 409.22 L253.92 409.33 L256.30 409.44 L258.67 409.56 L261.04 409.67 L263.41 409.78 L265.78 409.89 L268.15 410.01 L270.52 410.12 L272.90 410.23 L275.27 410.34 L277.64 410.46 L280.01 410.57 L282.38 410.69 L284.75 410.80 L287.13 410.92 L289.50 411.03 L291.87 411.15 L294.24 411.26 L296.61 411.38 L298.98 411.49 L301.36 411.61 L303.73 411.73 L306.10 411.84 L308.47 411.96 L310.84 412.08 L313.21 412.19 L315.58 412.31 L317.96 412.43 L320.33 412.55 L322.70 412.67 L325.07 412.79 L327.44 412.91 L329.81 413.03 L332.19 413.15 L334.56 413.27 L336.93 413.39 L339.30 413.51 L341.67 413.63 L344.04 413.75 L346.42 413.87 L348.79 413.99 L351.16 414.12 L353.53 414.24 L355.90 414.36 L358.27 414.49 L360.64 414.61 L363.02 414.73 L365.39 414.86 L367.76 414.98 L370.13 415.11 L372.50 415.23 L374.87 415.36 L377.25 415.49 L379.62 415.61 L381.99 415.74 L384.36 415.87 L386.73 415.99 L389.10 416.12 L391.47 416.25 L393.85 416.38 L396.22 416.51 L398.59 416.64 L400.96 416.77 L403.33 416.90 L405.70 417.03 L408.08 417.16 L410.45 417.29 L412.82 417.42 L415.19 417.55 L417.56 417.69 L419.93 417.82 L422.31 417.95 L424.68 418.09 L427.05 418.22 L429.42 418.35 L431.79 418.49 L434.16 418.62 L436.53 418.76 L438.91 418.90 L441.28 419.03 L443.65 419.17 L446.02 419.31 L448.39 419.45 L450.76 419.58 L453.14 419.72 L455.51 419.86 L457.88 420.00 L460.25 420.14 L462.62 420.28 L464.99 420.43 L467.37 420.57 L469.74 420.71 L472.11 420.85 L474.48 421.00 L476.85 421.14 L479.22 421.28 L481.59 421.43 L483.97 421.57 L486.34 421.72 L488.71 421.87 L491.08 422.01 L493.45 422.16 L495.82 422.31 L498.20 422.46 L500.57 422.61 L502.94 422.76 L505.31 422.91 L507.68 423.06 L510.05 423.21 L512.43 423.36 L514.80 423.52 L517.17 423.67 L519.54 423.82 L521.91 423.98 L524.28 424.13 L526.65 424.29 L529.03 424.45 L531.40 424.60 L533.77 424.76 L536.14 424.92 L538.51 425.08 L540.88 425.24 L543.26 425.40 L545.63 425.56 L548.00 425.72 L550.37 425.89 L552.74 426.05 L555.11 426.22 L557.48 426.38 L559.86 426.55 L562.23 426.72 L564.60 426.88 L566.97 427.05 L569.34 427.22 L571.71 427.39 L574.09 427.56 L576.46 427.73 L578.83 427.91 L581.20 428.08 L583.57 428.26 L585.94 428.43 L588.32 428.61 L590.69 428.79 L593.06 428.96 L595.43 429.14 L597.80 429.32 L600.17 429.51 L602.54 429.69 L604.92 429.87 L607.29 430.06 L609.66 430.24 L612.03 430.43 L614.40 430.62 L616.77 430.81 L619.15 431.00 L621.52 431.19 L623.89 431.38 L626.26 431.58 L628.63 431.77 L631.00 431.97 L633.38 432.17 L635.75 432.37 L638.12 432.57 L640.49 432.77 L642.86 432.97 L645.23 433.18 L647.60 433.39 L649.98 433.60 L652.35 433.81 L654.72 434.02 L657.09 434.23 L659.46 434.44 L661.83 434.66 L664.21 434.88 L666.58 435.10 L668.95 435.32 L671.32 435.55 L673.69 435.77 L676.06 436.00 L678.44 436.23 L680.81 436.46 L683.18 436.70 L685.55 436.93 L687.92 437.17 L690.29 437.41 L692.66 437.66 L695.04 437.91 L697.41 438.15 L699.78 438.41 L702.15 438.66 L704.52 438.92 L706.89 439.18 L709.27 439.44 L711.64 439.71 L714.01 439.98 L716.38 440.25 L718.75 440.53 L721.12 440.81 L723.49 441.10 L725.87 441.39 L728.24 441.68 L730.61 441.98 L732.98 442.28 L735.35 442.59 L737.72 442.90 L740.10 443.22 L742.47 443.54 L744.84 443.87 L747.21 444.21 L749.58 444.55 L751.95 444.90 L754.33 445.26 L756.70 445.63 L759.07 446.00 L761.44 446.39 L763.81 446.78 L766.18 447.19 L768.55 447.61 L770.93 448.04 L773.30 448.49 L775.67 448.95 L778.04 449.43 L780.41 449.93 L782.78 450.45 L785.16 451.01 L787.53 451.59 L789.90 452.21 L792.27 452.88 L794.64 453.60 L797.01 454.40 L799.39 455.31 L801.76 456.39 L804.13 457.80 L806.50 461.20 L806.45 461.70 L806.32 462.13 L806.12 462.56 L805.85 462.99 L805.49 463.41 L805.07 463.84 L804.56 464.27 L803.98 464.70" stroke="#ff7f00" stroke-width="4.1" stroke-dasharray="10.7 18.12" stroke-dashoffset="0"/>
<path d="M97.40 422.03 L99.77 422.10 L102.14 422.16 L104.51 422.23 L106.89 422.29 L109.26 422.36 L111.63 422.42 L114.00 422.49 L116.37 422.56 L118.74 422.62 L121.12 422.69 L123.49 422.76 L125.86 422.82 L128.23 422.89 L130.60 422.96 L132.97 423.03 L135.35 423.09 L137.72 423.16 L140.09 423.23 L142.46 423.29 L144.83 423.36 L147.20 423.43 L149.57 423.50 L151.95 423.57 L154.32 423.63 L156.69 423.70 L159.06 423.77 L161.43 423.84 L163.80 423.91 L166.18 423.98 L168.55 424.05 L170.92 424.12 L173.29 424.19 L175.66 424.25 L178.03 424.32 L180.41 424.39 L182.78 424.46 L185.15 424.53 L187.52 424.60 L189.89 424.67 L192.26 424.74 L194.63 424.81 L197.01 424.89 L199.38 424.96 L201.75 425.03 L204.12 425.10 L206.49 425.17 L208.86 425.24 L211.24 425.31 L213.61 425.38 L215.98 425.45 L218.35 425.53 L220.72 425.60 L223.09 425.67 L225.46 425.74 L227.84 425.82 L230.21 425.89 L232.58 425.96 L234.95 426.03 L237.32 426.11 L239.69 426.18 L242.07 426.25 L244.44 426.33 L246.81 426.40 L249.18 426.47 L251.55 426.55 L253.92 426.62 L256.30 426.70 L258.67 426.77 L261.04 426.85 L263.41 426.92 L265.78 427.00 L268.15 427.07 L270.52 427.15 L272.90 427.22 L275.27 427.30 L277.64 427.37 L280.01 427.45 L282.38 427.52 L284.75 427.60 L287.13 427.68 L289.50 427.75 L291.87 427.83 L294.24 427.91 L296.61 427.98 L298.98 428.06 L301.36 428.14 L303.73 428.22 L306.10 428.30 L308.47 428.37 L310.84 428.45 L313.21 428.53 L315.58 428.61 L317.96 428.69 L320.33 428.77 L322.70 428.85 L325.07 428.92 L327.44 429.00 L329.81 429.08 L332.19 429.16 L334.56 429.24 L336.93 429.32 L339.30 429.41 L341.67 429.49 L344.04 429.57 L346.42 429.65 L348.79 429.73 L351.16 429.81 L353.53 429.89 L355.90 429.98 L358.27 430.06 L360.64 430.14 L363.02 430.22 L365.39 430.31 L367.76 430.39 L370.13 430.47 L372.50 430.56 L374.87 430.64 L377.25 430.72 L379.62 430.81 L381.99 430.89 L384.36 430.98 L386.73 431.06 L389.10 431.15 L391.47 431.23 L393.85 431.32 L396.22 431.41 L398.59 431.49 L400.96 431.58 L403.33 431.66 L405.70 431.75 L408.08 431.84 L410.45 431.93 L412.82 432.01 L415.19 432.10 L417.56 432.19 L419.93 432.28 L422.31 432.37 L424.68 432.46 L427.05 432.55 L429.42 432.64 L431.79 432.73 L434.16 432.82 L436.53 432.91 L438.91 433.00 L441.28 433.09 L443.65 433.18 L446.02 433.27 L448.39 433.36 L450.76 433.46 L453.14 433.55 L455.51 433.64 L457.88 433.74 L460.25 433.83 L462.62 433.92 L464.99 434.02 L467.37 434.11 L469.74 434.21 L472.11 434.30 L474.48 434.40 L476.85 434.49 L479.22 434.59 L481.59 434.69 L483.97 434.78 L486.34 434.88 L488.71 434.98 L491.08 435.08 L493.45 435.17 L495.82 435.27 L498.20 435.37 L500.57 435.47 L502.94 435.57 L505.31 435.67 L507.68 435.77 L510.05 435.87 L512.43 435.98 L514.80 436.08 L517.17 436.18 L519.54 436.28 L521.91 436.39 L524.28 436.49 L526.65 436.59 L529.03 436.70 L531.40 436.80 L533.77 436.91 L536.14 437.01 L538.51 437.12 L540.88 437.23 L543.26 437.33 L545.63 437.44 L548.00 437.55 L550.37 437.66 L552.74 437.77 L555.11 437.88 L557.48 437.99 L559.86 438.10 L562.23 438.21 L564.60 438.32 L566.97 438.43 L569.34 438.55 L571.71 438.66 L574.09 438.78 L576.46 438.89 L578.83 439.01 L581.20 439.12 L583.57 439.24 L585.94 439.35 L588.32 439.47 L590.69 439.59 L593.06 439.71 L595.43 439.83 L597.80 439.95 L600.17 440.07 L602.54 440.19 L604.92 440.32 L607.29 440.44 L609.66 440.56 L612.03 440.69 L614.40 440.81 L616.77 440.94 L619.15 441.07 L621.52 441.19 L623.89 441.32 L626.26 441.45 L628.63 441.58 L631.00 441.71 L633.38 441.85 L635.75 441.98 L638.12 442.11 L640.49 442.25 L642.86 442.38 L645.23 442.52 L647.60 442.66 L649.98 442.80 L652.35 442.94 L654.72 443.08 L657.09 443.22 L659.46 443.36 L661.83 443.51 L664.21 443.65 L666.58 443.80 L668.95 443.95 L671.32 444.10 L673.69 444.25 L676.06 444.40 L678.44 444.55 L680.81 444.71 L683.18 444.86 L685.55 445.02 L687.92 445.18 L690.29 445.34 L692.66 445.51 L695.04 445.67 L697.41 445.84 L699.78 446.00 L702.15 446.17 L704.52 446.35 L706.89 446.52 L709.27 446.70 L711.64 446.87 L714.01 447.05 L716.38 447.24 L718.75 447.42 L721.12 447.61 L723.49 447.80 L725.87 447.99 L728.24 448.19 L730.61 448.39 L732.98 448.59 L735.35 448.79 L737.72 449.00 L740.10 449.21 L742.47 449.43 L744.84 449.65 L747.21 449.87 L749.58 450.10 L751.95 450.34 L754.33 450.57 L756.70 450.82 L759.07 451.07 L761.44 451.33 L763.81 451.59 L766.18 451.86 L768.55 452.14 L770.93 452.43 L773.30 452.72 L775.67 453.03 L778.04 453.35 L780.41 453.69 L782.78 454.04 L785.16 454.40 L787.53 454.79 L789.90 455.21 L792.27 455.65 L794.64 456.13 L797.01 456.67 L799.39 457.28 L801.76 458.00 L804.13 458.93 L806.50 461.20 L806.38 461.70 L806.10 462.13 L805.65 462.56 L805.03 462.99 L804.23 463.41 L803.27 463.84 L802.14 464.27 L800.84 464.70" stroke="#ff7f00" stroke-width="4.1" stroke-dasharray="10.7 18.12" stroke-dashoffset="0"/>
</g>
<g stroke="#6a6a6a" stroke-width="1.35" fill="none"><line x1="99.20" y1="461.20" x2="99.20" y2="452.70"/><line x1="279.45" y1="461.20" x2="279.45" y2="452.70"/><line x1="459.70" y1="461.20" x2="459.70" y2="452.70"/><line x1="639.95" y1="461.20" x2="639.95" y2="452.70"/><line x1="820.20" y1="461.20" x2="820.20" y2="452.70"/><line x1="99.20" y1="461.20" x2="107.70" y2="461.20"/><line x1="99.20" y1="397.64" x2="107.70" y2="397.64"/><line x1="99.20" y1="334.09" x2="107.70" y2="334.09"/><line x1="99.20" y1="270.53" x2="107.70" y2="270.53"/><line x1="99.20" y1="206.97" x2="107.70" y2="206.97"/><line x1="99.20" y1="143.41" x2="107.70" y2="143.41"/><line x1="99.20" y1="79.86" x2="107.70" y2="79.86"/><line x1="99.20" y1="16.30" x2="107.70" y2="16.30"/>
<rect x="99.2" y="16.3" width="721.0" height="444.9"/></g>
<g class="tk" filter="url(#gs)"><text transform="translate(92.85,470.50) scale(0.94,1)" text-anchor="end">0</text><text transform="translate(92.85,406.94) scale(0.94,1)" text-anchor="end">5</text><path transform="translate(93.2,343.39)" d="M-23.09 0 L-23.09 -15.42 C-24.69 -14.09 -26.29 -13.19 -27.88 -12.66 L-28.15 -14.62 C-25.22 -15.69 -22.83 -17.55 -21.92 -19.68 L-20.17 -19.68 L-20.17 0 Z" fill="#646464"/><text transform="translate(92.85,343.39) scale(0.94,1)" text-anchor="end">0</text><path transform="translate(93.2,279.83)" d="M-23.09 0 L-23.09 -15.42 C-24.69 -14.09 -26.29 -13.19 -27.88 -12.66 L-28.15 -14.62 C-25.22 -15.69 -22.83 -17.55 -21.92 -19.68 L-20.17 -19.68 L-20.17 0 Z" fill="#646464"/><text transform="translate(92.85,279.83) scale(0.94,1)" text-anchor="end">5</text><text transform="translate(92.85,216.27) scale(0.94,1)" text-anchor="end">20</text><text transform="translate(92.85,152.71) scale(0.94,1)" text-anchor="end">25</text><text transform="translate(92.85,89.16) scale(0.94,1)" text-anchor="end">30</text><text transform="translate(92.85,25.60) scale(0.94,1)" text-anchor="end">35</text><text transform="translate(69.60,494.6) scale(0.94,1)">−</text><text transform="translate(88.90,494.6) scale(0.94,1)">0.8</text><text transform="translate(249.85,494.6) scale(0.94,1)">−</text><text transform="translate(269.15,494.6) scale(0.94,1)">0.6</text><text transform="translate(430.10,494.6) scale(0.94,1)">−</text><text transform="translate(449.40,494.6) scale(0.94,1)">0.4</text><text transform="translate(610.35,494.6) scale(0.94,1)">−</text><text transform="translate(629.65,494.6) scale(0.94,1)">0.2</text><text transform="translate(819.50,494.6) scale(0.94,1)" text-anchor="middle">0</text></g>
<!-- arrow -->
<line x1="363" y1="304.3" x2="204.5" y2="438.4" stroke="#000" stroke-width="2.3"/>
<path d="M183.6 456.2 L201.6 429 L204.3 438.6 L213.6 443.6 Z" fill="#000"/>
<!-- labels -->
<g filter="url(#gs)"><text transform="translate(200.4,102.4) rotate(27.2)" font-family="Liberation Sans, sans-serif" font-size="27.5" fill="#000">Helix</text></g>
<!-- n glyph -->
<g transform="translate(320,280) scale(0.05308)" fill="#000">
<path d="M108 262 C118 215 150 150 195 150 C225 150 245 165 243 190 L192 468 L140 462 L195 200 C198 180 190 168 180 168 C155 168 132 225 122 268 Z"/>
<path d="M218 305 C245 225 300 150 360 150 C420 150 450 185 438 240 L385 400 C375 432 382 458 398 456 C428 452 452 400 462 356 L476 360 C466 412 432 478 382 478 C340 478 325 445 338 402 L393 250 C405 205 395 168 352 168 C305 170 255 240 232 310 Z"/>
</g>
<!-- F glyph -->
<g transform="translate(440,515) scale(0.070796)" fill="#000">
<path d="M185 101 L467 101 L448 226 L437 224 C446 160 440 120 395 118 L185 118 Z"/>
<path d="M237 116 L287 116 L210 449 L160 449 Z"/>
<path d="M100 447 L258 447 L258 464 L100 464 Z"/>
<path d="M248 271 L318 271 C340 268 350 245 357 213 L369 215 L328 353 L316 350 C322 310 318 288 300 285 L245 285 Z"/>
</g>
<!-- y label -->
<g filter="url(#gs)"><g transform="translate(33.8,290.4) rotate(-90)" fill="#000" font-family="Liberation Serif, serif">
<text transform="scale(1.042,1)" x="0" y="0" font-size="36.3" stroke="#fff" stroke-width="0.3">sup</text>
</g></g>
<g stroke="#000" stroke-width="1.45" fill="none">
<line x1="5.7" y1="193.4" x2="42.5" y2="193.4"/><line x1="5.7" y1="227.3" x2="42.5" y2="227.3"/></g>
<g transform="translate(0,185) scale(0.0885)" fill="none" stroke="#000" stroke-width="17" stroke-linecap="round" stroke-linejoin="round">
<path d="M197 366 C235 398 290 418 340 408 C388 398 392 330 345 302 L264 292 M345 302 C397 270 388 205 330 190 C290 180 240 176 214 182"/>
<circle cx="210" cy="190" r="9" fill="#000" stroke-width="8"/>
</g>
</svg>
</body></html>
